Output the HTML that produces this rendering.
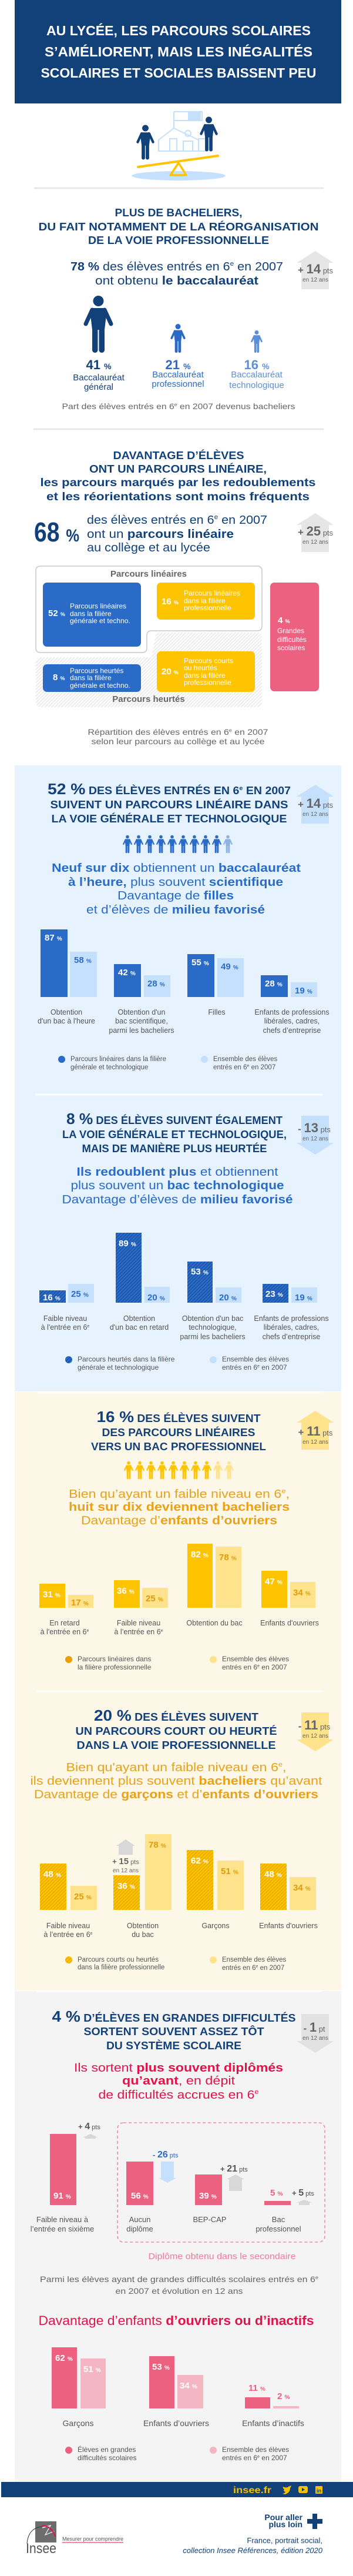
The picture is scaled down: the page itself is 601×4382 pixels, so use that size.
<!DOCTYPE html>
<html><head><meta charset="utf-8"><style>
html,body{margin:0;padding:0;background:#fff}
svg{display:block}
text{font-family:"Liberation Sans",sans-serif}
</style></head><body>
<svg width="601" height="4382" viewBox="0 0 601 4382" xmlns="http://www.w3.org/2000/svg">
<defs>
<symbol id="p" viewBox="0 0 51 97"><circle cx="25.5" cy="9" r="9"/><path d="M15 21 H36 Q39 21 40 25 L36 58 H15 L11 25 Q12 21 15 21 Z"/><path d="M15 24 L4 48 M36 24 L47 48" stroke-width="7" stroke-linecap="round" stroke="currentColor"/><rect x="15" y="52" width="9.5" height="45" rx="4.5"/><rect x="26.5" y="52" width="9.5" height="45" rx="4.5"/></symbol>
<pattern id="hb" width="4" height="4" patternUnits="userSpaceOnUse" patternTransform="rotate(45)"><rect width="4" height="4" fill="#2a6bc8"/><rect width="1.3" height="4" fill="#1a4f9e"/></pattern>
<pattern id="hy" width="4" height="4" patternUnits="userSpaceOnUse" patternTransform="rotate(45)"><rect width="4" height="4" fill="#ffc400"/><rect width="1.3" height="4" fill="#e0a300"/></pattern>
<pattern id="hg" width="4" height="4" patternUnits="userSpaceOnUse" patternTransform="rotate(45)"><rect width="4" height="4" fill="#fff"/><rect width="1" height="4" fill="#dcdcdc"/></pattern>
</defs>

<!-- Header -->
<rect x="25" y="0" width="556" height="176" fill="#12417a"/>
<g fill="#fff" font-weight="bold" font-size="23" text-anchor="middle">
<text x="304" y="60" textLength="450" lengthAdjust="spacingAndGlyphs">AU LYCÉE, LES PARCOURS SCOLAIRES</text>
<text x="304" y="96" textLength="456" lengthAdjust="spacingAndGlyphs">S’AMÉLIORENT, MAIS LES INÉGALITÉS</text>
<text x="304" y="132" textLength="469" lengthAdjust="spacingAndGlyphs">SCOLAIRES ET SOCIALES BAISSENT PEU</text>
</g>
<!-- illustration -->
<ellipse cx="304" cy="299" rx="80" ry="8" fill="#c5e0fd"/>
<g fill="none" stroke="#c5e0fd" stroke-width="2">
<path d="M296 190 V218 M296 190 H344 V205 H296"/>
<path d="M296 218 L270 238 V257 H338 V238 Z"/>
<circle cx="320" cy="227" r="5"/><rect x="312" y="240" width="16" height="17"/>
<rect x="289" y="236" width="12" height="21"/><rect x="338" y="236" width="12" height="21"/>
</g>
<rect x="320" y="190" width="22" height="16" fill="#c5e0fd"/>
<use href="#p" x="232" y="212" width="31" height="60" fill="#12417a" color="#12417a" preserveAspectRatio="none"/>
<use href="#p" x="340" y="198" width="31" height="60" fill="#12417a" color="#12417a" preserveAspectRatio="none"/>
<line x1="235" y1="284" x2="371" y2="265" stroke="#ffc400" stroke-width="4" stroke-linecap="round"/>
<path d="M304 277 L290 298 H317 Z" fill="none" stroke="#ffc400" stroke-width="3.5" stroke-linejoin="round"/>
<line x1="59" y1="320" x2="550" y2="320" stroke="#e8e8e8" stroke-width="3" stroke-linecap="round"/>

<!-- Section 1 -->
<g fill="#12417a" font-weight="bold" font-size="18" text-anchor="middle">
<text x="304" y="368" textLength="217" lengthAdjust="spacingAndGlyphs">PLUS DE BACHELIERS,</text>
<text x="304" y="392" textLength="477" lengthAdjust="spacingAndGlyphs">DU FAIT NOTAMMENT DE LA RÉORGANISATION</text>
<text x="304" y="415" textLength="308" lengthAdjust="spacingAndGlyphs">DE LA VOIE PROFESSIONNELLE</text>
</g>
<g fill="#12417a" font-size="20" text-anchor="middle">
<text x="301" y="460" textLength="362" lengthAdjust="spacingAndGlyphs"><tspan font-weight="bold">78 %</tspan> des élèves entrés en 6<tspan font-size="11" dy="-8">e</tspan><tspan dy="8"> en 2007</tspan></text>
<text x="301" y="484" textLength="278" lengthAdjust="spacingAndGlyphs">ont obtenu <tspan font-weight="bold">le baccalauréat</tspan></text>
</g>
<polygon points="537,427 568,447 560,447 560,492 513,492 513,447 505,447" fill="#e6e6e6"/>
<text x="537" y="465" text-anchor="middle" fill="#666" font-weight="bold"><tspan font-size="17">+ </tspan><tspan font-size="22">14</tspan><tspan font-size="13" font-weight="normal"> pts</tspan></text>
<text x="537" y="479" text-anchor="middle" fill="#666" font-size="10">en 12 ans</text>
<use href="#p" x="142" y="503" width="51" height="97" fill="#12417a" color="#12417a" preserveAspectRatio="none"/>
<use href="#p" x="290" y="551" width="26" height="49" fill="#2a6bc8" color="#2a6bc8" preserveAspectRatio="none"/>
<use href="#p" x="427" y="562" width="20" height="38" fill="#5b8fd8" color="#5b8fd8" preserveAspectRatio="none"/>
<g text-anchor="middle">
<text x="168" y="628" fill="#12417a" font-weight="bold" font-size="22">41 <tspan font-size="14">%</tspan></text>
<text x="168" y="647" fill="#12417a" font-size="15">Baccalauréat</text>
<text x="168" y="663" fill="#12417a" font-size="15">général</text>
<text x="303" y="628" fill="#2a6bc8" font-weight="bold" font-size="22">21 <tspan font-size="14">%</tspan></text>
<text x="303" y="642" fill="#2a6bc8" font-size="15">Baccalauréat</text>
<text x="303" y="658" fill="#2a6bc8" font-size="15">professionnel</text>
<text x="437" y="628" fill="#5b8fd8" font-weight="bold" font-size="22">16 <tspan font-size="14">%</tspan></text>
<text x="437" y="642" fill="#5b8fd8" font-size="15">Baccalauréat</text>
<text x="437" y="660" fill="#5b8fd8" font-size="15">technologique</text>
<text x="304" y="696" fill="#666" font-size="14" textLength="397" lengthAdjust="spacingAndGlyphs">Part des élèves entrés en 6<tspan font-size="8" dy="-5">e</tspan><tspan dy="5"> en 2007 devenus bacheliers</tspan></text>
</g>
<line x1="58" y1="730" x2="550" y2="730" stroke="#e8e8e8" stroke-width="3" stroke-linecap="round"/>

<!-- Section 2 -->
<g fill="#12417a" font-weight="bold" font-size="18" text-anchor="middle">
<text x="304" y="781" textLength="223" lengthAdjust="spacingAndGlyphs">DAVANTAGE D’ÉLÈVES</text>
<text x="303" y="804" textLength="302" lengthAdjust="spacingAndGlyphs">ONT UN PARCOURS LINÉAIRE,</text>
<text x="303" y="827" font-size="19" textLength="469" lengthAdjust="spacingAndGlyphs">les parcours marqués par les redoublements</text>
<text x="303" y="851" font-size="19" textLength="448" lengthAdjust="spacingAndGlyphs">et les réorientations sont moins fréquents</text>
</g>
<text x="58" y="921" fill="#12417a" font-weight="bold" font-size="46" textLength="77" lengthAdjust="spacingAndGlyphs">68 <tspan font-size="30">%</tspan></text>
<g fill="#12417a" font-size="20">
<text x="148" y="891" textLength="307" lengthAdjust="spacingAndGlyphs">des élèves entrés en 6<tspan font-size="11" dy="-8">e</tspan><tspan dy="8"> en 2007</tspan></text>
<text x="148" y="915" textLength="250" lengthAdjust="spacingAndGlyphs">ont un <tspan font-weight="bold">parcours linéaire</tspan></text>
<text x="148" y="938" textLength="210" lengthAdjust="spacingAndGlyphs">au collège et au lycée</text>
</g>
<polygon points="537,873 568,893 560,893 560,939 513,939 513,893 505,893" fill="#e6e6e6"/>
<text x="537" y="911" text-anchor="middle" fill="#666" font-weight="bold"><tspan font-size="17">+ </tspan><tspan font-size="22">25</tspan><tspan font-size="13" font-weight="normal"> pts</tspan></text>
<text x="537" y="925" text-anchor="middle" fill="#666" font-size="10">en 12 ans</text>

<path d="M266 1076 H438 Q446 1076 446 1084 V1195 Q446 1203 438 1203 H69 Q61 1203 61 1195 V1126 Q61 1118 69 1118 H258 Z" fill="url(#hg)"/>
<path d="M69 963 H438 Q446 963 446 971 V1065 Q446 1073 438 1073 H258 Q250 1073 250 1081 V1102 Q250 1110 242 1110 H69 Q61 1110 61 1102 V971 Q61 963 69 963 Z" fill="#fff" stroke="#c8c8c8" stroke-width="1.5"/>
<text x="253" y="981" text-anchor="middle" fill="#666" font-weight="bold" font-size="15">Parcours linéaires</text>
<rect x="73" y="991" width="167" height="109" rx="7" fill="#2a6bc8"/>
<rect x="267" y="991" width="167" height="63" rx="7" fill="#ffc400"/>
<rect x="460" y="991" width="83" height="185" rx="7" fill="#ec6080"/>
<rect x="73" y="1130" width="167" height="47" rx="7" fill="#2a6bc8"/>
<rect x="267" y="1108" width="167" height="69" rx="7" fill="#ffc400"/>
<g fill="#fff" font-size="12">
<text x="82" y="1048" font-weight="bold" font-size="15">52 <tspan font-size="9">%</tspan></text>
<text x="119" y="1035">Parcours linéaires</text><text x="119" y="1048">dans la filière</text><text x="119" y="1060">générale et techno.</text>
<text x="275" y="1028" font-weight="bold" font-size="15">16 <tspan font-size="9">%</tspan></text>
<text x="313" y="1013">Parcours linéaires</text><text x="313" y="1026">dans la filière</text><text x="313" y="1038">professionnelle</text>
<text x="473" y="1060" font-weight="bold" font-size="15">4 <tspan font-size="9">%</tspan></text>
<text x="472" y="1077">Grandes</text><text x="472" y="1092">difficultés</text><text x="472" y="1106">scolaires</text>
<text x="90" y="1157" font-weight="bold" font-size="15">8 <tspan font-size="9">%</tspan></text>
<text x="119" y="1145">Parcours heurtés</text><text x="119" y="1157">dans la filière</text><text x="119" y="1170">générale et techno.</text>
<text x="275" y="1147" font-weight="bold" font-size="15">20 <tspan font-size="9">%</tspan></text>
<text x="313" y="1128">Parcours courts</text><text x="313" y="1140">ou heurtés</text><text x="313" y="1153">dans la filière</text><text x="313" y="1165">professionnelle</text>
</g>
<text x="253" y="1194" text-anchor="middle" fill="#666" font-weight="bold" font-size="15">Parcours heurtés</text>
<g fill="#666" font-size="14" text-anchor="middle">
<text x="303" y="1250" textLength="307" lengthAdjust="spacingAndGlyphs">Répartition des élèves entrés en 6<tspan font-size="8" dy="-5">e</tspan><tspan dy="5"> en 2007</tspan></text>
<text x="303" y="1266" textLength="295" lengthAdjust="spacingAndGlyphs">selon leur parcours au collège et au lycée</text>
</g>

<!-- Blue section -->
<rect x="25" y="1302" width="556" height="1065" fill="#e6f2fe"/>
<g fill="#12417a" font-weight="bold" font-size="18" text-anchor="middle">
<text x="288" y="1351" textLength="414" lengthAdjust="spacingAndGlyphs"><tspan font-size="26">52 %</tspan> DES ÉLÈVES ENTRÉS EN 6<tspan font-size="10" dy="-7">e</tspan><tspan dy="7"> EN 2007</tspan></text>
<text x="288" y="1375" textLength="405" lengthAdjust="spacingAndGlyphs">SUIVENT UN PARCOURS LINÉAIRE DANS</text>
<text x="288" y="1399" textLength="401" lengthAdjust="spacingAndGlyphs">LA VOIE GÉNÉRALE ET TECHNOLOGIQUE</text>
</g>
<polygon points="537,1335 568,1355 560,1355 560,1401 513,1401 513,1355 505,1355" fill="#c5e0fd"/>
<text x="537" y="1374" text-anchor="middle" fill="#666" font-weight="bold"><tspan font-size="17">+ </tspan><tspan font-size="22">14</tspan><tspan font-size="13" font-weight="normal"> pts</tspan></text>
<text x="537" y="1388" text-anchor="middle" fill="#666" font-size="10">en 12 ans</text>
<g fill="#2a6bc8" color="#2a6bc8">
<use href="#p" x="209" y="1416" width="16" height="40" preserveAspectRatio="none"/>
<use href="#p" x="228" y="1416" width="16" height="40" preserveAspectRatio="none"/>
<use href="#p" x="247" y="1416" width="16" height="40" preserveAspectRatio="none"/>
<use href="#p" x="266" y="1416" width="16" height="40" preserveAspectRatio="none"/>
<use href="#p" x="285" y="1416" width="16" height="40" preserveAspectRatio="none"/>
<use href="#p" x="304" y="1416" width="16" height="40" preserveAspectRatio="none"/>
<use href="#p" x="323" y="1416" width="16" height="40" preserveAspectRatio="none"/>
<use href="#p" x="342" y="1416" width="16" height="40" preserveAspectRatio="none"/>
<use href="#p" x="361" y="1416" width="16" height="40" preserveAspectRatio="none"/>
<use href="#p" x="380" y="1416" width="16" height="40" fill="#8fb3e0" color="#8fb3e0" preserveAspectRatio="none"/>
</g>
<g fill="#2a6bc8" font-size="20" text-anchor="middle">
<text x="300" y="1483" textLength="424" lengthAdjust="spacingAndGlyphs"><tspan font-weight="bold">Neuf sur dix</tspan> obtiennent un <tspan font-weight="bold">baccalauréat</tspan></text>
<text x="299" y="1507" textLength="366" lengthAdjust="spacingAndGlyphs"><tspan font-weight="bold">à l’heure,</tspan> plus souvent <tspan font-weight="bold">scientifique</tspan></text>
<text x="299" y="1530" textLength="198" lengthAdjust="spacingAndGlyphs">Davantage de <tspan font-weight="bold">filles</tspan></text>
<text x="299" y="1554" textLength="304" lengthAdjust="spacingAndGlyphs">et d’élèves de <tspan font-weight="bold">milieu favorisé</tspan></text>
</g>
<g fill="#2a6bc8">
<rect x="69" y="1581" width="46" height="115"/><rect x="194" y="1640" width="46" height="56"/><rect x="319" y="1623" width="46" height="73"/><rect x="444" y="1659" width="46" height="37"/>
</g>
<g fill="#c5e0fd">
<rect x="119" y="1619" width="46" height="77"/><rect x="245" y="1659" width="45" height="37"/><rect x="370" y="1630" width="45" height="66"/><rect x="495" y="1671" width="45" height="25"/>
</g>
<g font-weight="bold" font-size="15" fill="#fff">
<text x="76" y="1600">87 <tspan font-size="10">%</tspan></text><text x="201" y="1659">42 <tspan font-size="10">%</tspan></text><text x="326" y="1642">55 <tspan font-size="10">%</tspan></text><text x="451" y="1678">28 <tspan font-size="10">%</tspan></text>
</g>
<g font-weight="bold" font-size="15" fill="#2a6bc8">
<text x="126" y="1638">58 <tspan font-size="10">%</tspan></text><text x="251" y="1678">28 <tspan font-size="10">%</tspan></text><text x="376" y="1649">49 <tspan font-size="10">%</tspan></text><text x="502" y="1690">19 <tspan font-size="10">%</tspan></text>
</g>
<g fill="#555" font-size="12.5" text-anchor="middle">
<text x="113" y="1726">Obtention</text><text x="113" y="1741">d'un bac à l'heure</text>
<text x="241" y="1726">Obtention d'un</text><text x="241" y="1741">bac scientifique,</text><text x="241" y="1757">parmi les bacheliers</text>
<text x="369" y="1726">Filles</text>
<text x="497" y="1726">Enfants de professions</text><text x="497" y="1741">libérales, cadres,</text><text x="497" y="1757">chefs d’entreprise</text>
</g>
<circle cx="105" cy="1802" r="6" fill="#2a6bc8"/><circle cx="348" cy="1802" r="6" fill="#c5e0fd"/>
<g fill="#555" font-size="11.5">
<text x="120" y="1805">Parcours linéaires dans la filière</text><text x="120" y="1819">générale et technologique</text>
<text x="363" y="1805">Ensemble des élèves</text><text x="363" y="1819">entrés en 6<tspan font-size="7" dy="-4">e</tspan><tspan dy="4"> en 2007</tspan></text>
</g>
<line x1="62" y1="1862" x2="548" y2="1862" stroke="#fff" stroke-width="3" stroke-linecap="round"/>

<g fill="#12417a" font-weight="bold" font-size="18" text-anchor="middle">
<text x="297" y="1912" textLength="368" lengthAdjust="spacingAndGlyphs"><tspan font-size="26">8 %</tspan> DES ÉLÈVES SUIVENT ÉGALEMENT</text>
<text x="297" y="1936" textLength="382" lengthAdjust="spacingAndGlyphs">LA VOIE GÉNÉRALE ET TECHNOLOGIQUE,</text>
<text x="297" y="1960" textLength="315" lengthAdjust="spacingAndGlyphs">MAIS DE MANIÈRE PLUS HEURTÉE</text>
</g>
<polygon points="513,1898 560,1898 560,1944 568,1944 537,1964 505,1944 513,1944" fill="#c5e0fd"/>
<text x="535" y="1926" text-anchor="middle" fill="#666" font-weight="bold"><tspan font-size="17">- </tspan><tspan font-size="22">13</tspan><tspan font-size="13" font-weight="normal"> pts</tspan></text>
<text x="537" y="1940" text-anchor="middle" fill="#666" font-size="10">en 12 ans</text>
<g fill="#2a6bc8" font-size="20" text-anchor="middle">
<text x="302" y="2000" textLength="343" lengthAdjust="spacingAndGlyphs"><tspan font-weight="bold">Ils redoublent plus</tspan> et obtiennent</text>
<text x="302" y="2023" textLength="363" lengthAdjust="spacingAndGlyphs">plus souvent un <tspan font-weight="bold">bac technologique</tspan></text>
<text x="302" y="2047" textLength="393" lengthAdjust="spacingAndGlyphs">Davantage d’élèves de <tspan font-weight="bold">milieu favorisé</tspan></text>
</g>
<g fill="url(#hb)">
<rect x="67" y="2195" width="45" height="21"/><rect x="197" y="2097" width="44" height="119"/><rect x="319" y="2146" width="43" height="70"/><rect x="447" y="2184" width="44" height="32"/>
</g>
<g fill="#c5e0fd">
<rect x="116" y="2184" width="44" height="32"/><rect x="246" y="2189" width="43" height="27"/><rect x="367" y="2190" width="44" height="26"/><rect x="496" y="2190" width="44" height="26"/>
</g>
<g font-weight="bold" font-size="15" fill="#fff">
<text x="73" y="2212">16 <tspan font-size="10">%</tspan></text><text x="202" y="2120">89 <tspan font-size="10">%</tspan></text><text x="325" y="2168">53 <tspan font-size="10">%</tspan></text><text x="452" y="2206">23 <tspan font-size="10">%</tspan></text>
</g>
<g font-weight="bold" font-size="15" fill="#2a6bc8">
<text x="121" y="2206">25 <tspan font-size="10">%</tspan></text><text x="251" y="2212">20 <tspan font-size="10">%</tspan></text><text x="373" y="2212">20 <tspan font-size="10">%</tspan></text><text x="502" y="2212">19 <tspan font-size="10">%</tspan></text>
</g>
<g fill="#555" font-size="12.5" text-anchor="middle">
<text x="111" y="2247">Faible niveau</text><text x="111" y="2262">à l'entrée en 6<tspan font-size="7" dy="-4">e</tspan></text>
<text x="237" y="2247">Obtention</text><text x="237" y="2262">d'un bac en retard</text>
<text x="362" y="2247">Obtention d'un bac</text><text x="362" y="2262">technologique,</text><text x="362" y="2278">parmi les bacheliers</text>
<text x="496" y="2247">Enfants de professions</text><text x="496" y="2262">libérales, cadres,</text><text x="496" y="2278">chefs d’entreprise</text>
</g>
<circle cx="117" cy="2313" r="6" fill="url(#hb)"/><circle cx="363" cy="2313" r="6" fill="#c5e0fd"/>
<g fill="#555" font-size="12">
<text x="132" y="2316">Parcours heurtés dans la filière</text><text x="132" y="2330">générale et technologique</text>
<text x="378" y="2316">Ensemble des élèves</text><text x="378" y="2330">entrés en 6<tspan font-size="7" dy="-4">e</tspan><tspan dy="4"> en 2007</tspan></text>
</g>

<!-- Yellow section -->
<rect x="25" y="2368" width="556" height="1018" fill="#fdf7e7"/>
<line x1="62" y1="2368" x2="548" y2="2368" stroke="#fff" stroke-width="3"/>
<g fill="#12417a" font-weight="bold" font-size="18" text-anchor="middle">
<text x="304" y="2419" textLength="279" lengthAdjust="spacingAndGlyphs"><tspan font-size="26">16 %</tspan> DES ÉLÈVES SUIVENT</text>
<text x="304" y="2443" textLength="261" lengthAdjust="spacingAndGlyphs">DES PARCOURS LINÉAIRES</text>
<text x="304" y="2467" textLength="298" lengthAdjust="spacingAndGlyphs">VERS UN BAC PROFESSIONNEL</text>
</g>
<polygon points="537,2400 568,2420 560,2420 560,2466 513,2466 513,2420 505,2420" fill="#ffe38c"/>
<text x="537" y="2442" text-anchor="middle" fill="#666" font-weight="bold"><tspan font-size="17">+ </tspan><tspan font-size="22">11</tspan><tspan font-size="13" font-weight="normal"> pts</tspan></text>
<text x="537" y="2456" text-anchor="middle" fill="#666" font-size="10">en 12 ans</text>
<g fill="#ffc400" color="#ffc400">
<use href="#p" x="211" y="2481" width="16" height="40" preserveAspectRatio="none"/>
<use href="#p" x="230" y="2481" width="16" height="40" preserveAspectRatio="none"/>
<use href="#p" x="249" y="2481" width="16" height="40" preserveAspectRatio="none"/>
<use href="#p" x="268" y="2481" width="16" height="40" preserveAspectRatio="none"/>
<use href="#p" x="287" y="2481" width="16" height="40" preserveAspectRatio="none"/>
<use href="#p" x="306" y="2481" width="16" height="40" preserveAspectRatio="none"/>
<use href="#p" x="325" y="2481" width="16" height="40" preserveAspectRatio="none"/>
<use href="#p" x="344" y="2481" width="16" height="40" preserveAspectRatio="none"/>
<use href="#p" x="363" y="2481" width="16" height="40" fill="#ffe38c" color="#ffe38c" preserveAspectRatio="none"/>
<use href="#p" x="382" y="2481" width="16" height="40" fill="#ffe38c" color="#ffe38c" preserveAspectRatio="none"/>
</g>
<g fill="#eaa11a" font-size="20" text-anchor="middle">
<text x="305" y="2548" textLength="376" lengthAdjust="spacingAndGlyphs">Bien qu’ayant un faible niveau en 6<tspan font-size="11" dy="-8">e</tspan><tspan dy="8">,</tspan></text>
<text x="305" y="2570" font-weight="bold" textLength="376" lengthAdjust="spacingAndGlyphs">huit sur dix deviennent bacheliers</text>
<text x="305" y="2593" textLength="334" lengthAdjust="spacingAndGlyphs">Davantage d’<tspan font-weight="bold">enfants d’ouvriers</tspan></text>
</g>
<g fill="#ffc400">
<rect x="67" y="2694" width="44" height="41"/><rect x="194" y="2688" width="44" height="47"/><rect x="319" y="2626" width="43" height="109"/><rect x="445" y="2672" width="44" height="63"/>
</g>
<g fill="#ffe38c">
<rect x="116" y="2713" width="43" height="22"/><rect x="242" y="2701" width="44" height="34"/><rect x="367" y="2631" width="44" height="104"/><rect x="494" y="2691" width="43" height="44"/>
</g>
<g font-weight="bold" font-size="15" fill="#fff">
<text x="73" y="2717">31 <tspan font-size="10">%</tspan></text><text x="199" y="2711">36 <tspan font-size="10">%</tspan></text><text x="325" y="2649">82 <tspan font-size="10">%</tspan></text><text x="451" y="2695">47 <tspan font-size="10">%</tspan></text>
</g>
<g font-weight="bold" font-size="15" fill="#e09b0a">
<text x="121" y="2731">17 <tspan font-size="10">%</tspan></text><text x="248" y="2724">25 <tspan font-size="10">%</tspan></text><text x="373" y="2654">78 <tspan font-size="10">%</tspan></text><text x="499" y="2714">34 <tspan font-size="10">%</tspan></text>
</g>
<g fill="#555" font-size="12.5" text-anchor="middle">
<text x="110" y="2765">En retard</text><text x="110" y="2780">à l'entrée en 6<tspan font-size="7" dy="-4">e</tspan></text>
<text x="236" y="2765">Faible niveau</text><text x="236" y="2780">à l’entrée en 6<tspan font-size="7" dy="-4">e</tspan></text>
<text x="365" y="2765">Obtention du bac</text>
<text x="493" y="2765">Enfants d'ouvriers</text>
</g>
<circle cx="117" cy="2823" r="6" fill="#eba000"/><circle cx="363" cy="2823" r="6" fill="#ffe38c"/>
<g fill="#555" font-size="12">
<text x="132" y="2826">Parcours linéaires dans</text><text x="132" y="2840">la filière professionnelle</text>
<text x="378" y="2826">Ensemble des élèves</text><text x="378" y="2840">entrés en 6<tspan font-size="7" dy="-4">e</tspan><tspan dy="4"> en 2007</tspan></text>
</g>
<line x1="62" y1="2877" x2="548" y2="2877" stroke="#fff" stroke-width="3" stroke-linecap="round"/>
<g fill="#12417a" font-weight="bold" font-size="18" text-anchor="middle">
<text x="300" y="2927" textLength="280" lengthAdjust="spacingAndGlyphs"><tspan font-size="26">20 %</tspan> DES ÉLÈVES SUIVENT</text>
<text x="300" y="2951" textLength="343" lengthAdjust="spacingAndGlyphs">UN PARCOURS COURT OU HEURTÉ</text>
<text x="300" y="2975" textLength="339" lengthAdjust="spacingAndGlyphs">DANS LA VOIE PROFESSIONNELLE</text>
</g>
<polygon points="513,2913 560,2913 560,2959 568,2959 537,2979 505,2959 513,2959" fill="#ffe38c"/>
<text x="535" y="2942" text-anchor="middle" fill="#666" font-weight="bold"><tspan font-size="17">- </tspan><tspan font-size="22">11</tspan><tspan font-size="13" font-weight="normal"> pts</tspan></text>
<text x="537" y="2956" text-anchor="middle" fill="#666" font-size="10">en 12 ans</text>
<g fill="#eaa11a" font-size="20" text-anchor="middle">
<text x="300" y="3013" textLength="375" lengthAdjust="spacingAndGlyphs">Bien qu'ayant un faible niveau en 6<tspan font-size="11" dy="-8">e</tspan><tspan dy="8">,</tspan></text>
<text x="300" y="3036" textLength="497" lengthAdjust="spacingAndGlyphs">ils deviennent plus souvent <tspan font-weight="bold">bacheliers</tspan> qu’avant</text>
<text x="300" y="3059" textLength="484" lengthAdjust="spacingAndGlyphs">Davantage de <tspan font-weight="bold">garçons</tspan> et d’<tspan font-weight="bold">enfants d’ouvriers</tspan></text>
</g>
<g fill="url(#hy)">
<rect x="68" y="3170" width="45" height="79"/><rect x="193" y="3190" width="45" height="59"/><rect x="318" y="3147" width="45" height="102"/><rect x="443" y="3170" width="45" height="79"/>
</g>
<g fill="#ffe38c">
<rect x="120" y="3208" width="45" height="41"/><rect x="247" y="3120" width="45" height="129"/><rect x="370" y="3165" width="45" height="84"/><rect x="493" y="3193" width="45" height="56"/>
</g>
<g font-weight="bold" font-size="15" fill="#fff">
<text x="74" y="3193">48 <tspan font-size="10">%</tspan></text><text x="200" y="3213">36 <tspan font-size="10">%</tspan></text><text x="325" y="3170">62 <tspan font-size="10">%</tspan></text><text x="450" y="3193">48 <tspan font-size="10">%</tspan></text>
</g>
<g font-weight="bold" font-size="15" fill="#e09b0a">
<text x="126" y="3231">25 <tspan font-size="10">%</tspan></text><text x="253" y="3143">78 <tspan font-size="10">%</tspan></text><text x="376" y="3188">51 <tspan font-size="10">%</tspan></text><text x="499" y="3216">34 <tspan font-size="10">%</tspan></text>
</g>
<polygon points="214,3129 230,3140 226,3140 226,3155 202,3155 202,3140 198,3140" fill="#d8d8d8"/>
<text x="214" y="3171" text-anchor="middle" fill="#666" font-weight="bold"><tspan font-size="13">+ </tspan><tspan font-size="15">15</tspan><tspan font-size="11" font-weight="normal"> pts</tspan></text>
<text x="214" y="3185" text-anchor="middle" fill="#666" font-size="10">en 12 ans</text>
<g fill="#555" font-size="12.5" text-anchor="middle">
<text x="116" y="3280">Faible niveau</text><text x="116" y="3295">à l’entrée en 6<tspan font-size="7" dy="-4">e</tspan></text>
<text x="243" y="3280">Obtention</text><text x="243" y="3295">du bac</text>
<text x="367" y="3280">Garçons</text>
<text x="491" y="3280">Enfants d'ouvriers</text>
</g>
<circle cx="117" cy="3334" r="6" fill="url(#hy)"/><circle cx="363" cy="3334" r="6" fill="#ffe38c"/>
<g fill="#555" font-size="11.5">
<text x="132" y="3337">Parcours courts ou heurtés</text><text x="132" y="3350">dans la filière professionnelle</text>
<text x="378" y="3337">Ensemble des élèves</text><text x="378" y="3351">entrés en 6<tspan font-size="7" dy="-4">e</tspan><tspan dy="4"> en 2007</tspan></text>
</g>

<!-- Gray section -->
<rect x="25" y="3387" width="556" height="835" fill="#f4f4f4"/>
<line x1="62" y1="3387" x2="548" y2="3387" stroke="#fff" stroke-width="3"/>
<g fill="#12417a" font-weight="bold" font-size="18" text-anchor="middle">
<text x="296" y="3439" textLength="415" lengthAdjust="spacingAndGlyphs"><tspan font-size="26">4 %</tspan> D’ÉLÈVES EN GRANDES DIFFICULTÉS</text>
<text x="296" y="3462" textLength="307" lengthAdjust="spacingAndGlyphs">SORTENT SOUVENT ASSEZ TÔT</text>
<text x="296" y="3486" textLength="230" lengthAdjust="spacingAndGlyphs">DU SYSTÈME SCOLAIRE</text>
</g>
<polygon points="513,3426 560,3426 560,3472 568,3472 537,3492 505,3472 513,3472" fill="#e2e2e2"/>
<text x="535" y="3456" text-anchor="middle" fill="#666" font-weight="bold"><tspan font-size="17">- </tspan><tspan font-size="22">1</tspan><tspan font-size="13" font-weight="normal"> pt</tspan></text>
<text x="537" y="3470" text-anchor="middle" fill="#666" font-size="10">en 12 ans</text>
<g fill="#e2134a" font-size="20" text-anchor="middle">
<text x="304" y="3524" textLength="356" lengthAdjust="spacingAndGlyphs">Ils sortent <tspan font-weight="bold">plus souvent diplômés</tspan></text>
<text x="304" y="3546" textLength="192" lengthAdjust="spacingAndGlyphs"><tspan font-weight="bold">qu’avant</tspan>, en dépit</text>
<text x="304" y="3570" textLength="273" lengthAdjust="spacingAndGlyphs">de difficultés accrues en 6<tspan font-size="11" dy="-8">e</tspan></text>
</g>
<rect x="200" y="3611" width="353" height="203" rx="10" fill="none" stroke="#f28aa3" stroke-width="1.6" stroke-dasharray="5 4"/>
<g fill="#ec6080">
<rect x="85" y="3630" width="45" height="121"/><rect x="215" y="3677" width="46" height="74"/><rect x="332" y="3699" width="46" height="52"/><rect x="450" y="3744" width="45" height="7"/>
</g>
<g font-weight="bold" font-size="15" fill="#fff">
<text x="91" y="3740">91 <tspan font-size="10">%</tspan></text><text x="223" y="3740">56 <tspan font-size="10">%</tspan></text><text x="339" y="3740">39 <tspan font-size="10">%</tspan></text>
</g>
<text x="460" y="3735" font-weight="bold" font-size="15" fill="#ec6080">5 <tspan font-size="10">%</tspan></text>
<g fill="#555" font-weight="bold">
<text x="133" y="3622"><tspan font-size="13">+ </tspan><tspan font-size="16">4</tspan><tspan font-size="11" font-weight="normal"> pts</tspan></text>
<text x="375" y="3694"><tspan font-size="13">+ </tspan><tspan font-size="16">21</tspan><tspan font-size="11" font-weight="normal"> pts</tspan></text>
<text x="497" y="3735"><tspan font-size="13">+ </tspan><tspan font-size="16">5</tspan><tspan font-size="11" font-weight="normal"> pts</tspan></text>
</g>
<text x="260" y="3670" fill="#2a6bc8" font-weight="bold"><tspan font-size="13">- </tspan><tspan font-size="16">26</tspan><tspan font-size="11" font-weight="normal"> pts</tspan></text>
<polygon points="154,3630 167,3636 163,3636 163,3638 145,3638 145,3636 141,3636" fill="#d8d8d8"/>
<polygon points="274,3677 296,3677 296,3705 300,3705 285,3713 270,3705 274,3705" fill="#c5e0fd"/>
<polygon points="401,3699 416,3707 412,3707 412,3727 390,3727 390,3707 386,3707" fill="#d8d8d8"/>
<polygon points="518,3742 531,3747 527,3747 527,3751 509,3751 509,3747 505,3747" fill="#d8d8d8"/>
<g fill="#555" font-size="13" text-anchor="middle">
<text x="106" y="3780">Faible niveau à</text><text x="106" y="3796">l’entrée en sixième</text>
<text x="238" y="3780">Aucun</text><text x="238" y="3796">diplôme</text>
<text x="357" y="3780">BEP-CAP</text>
<text x="474" y="3780">Bac</text><text x="474" y="3796">professionnel</text>
</g>
<text x="378" y="3843" text-anchor="middle" fill="#f07a98" font-size="15" textLength="251" lengthAdjust="spacingAndGlyphs">Diplôme obtenu dans le secondaire</text>
<g fill="#666" font-size="14" text-anchor="middle">
<text x="305" y="3882" textLength="474" lengthAdjust="spacingAndGlyphs">Parmi les élèves ayant de grandes difficultés scolaires entrés en 6<tspan font-size="8" dy="-5">e</tspan></text>
<text x="305" y="3902" textLength="217" lengthAdjust="spacingAndGlyphs">en 2007 et évolution en 12 ans</text>
</g>
<text x="300" y="3955" text-anchor="middle" fill="#e2134a" font-size="22" textLength="469" lengthAdjust="spacingAndGlyphs">Davantage d’enfants <tspan font-weight="bold">d’ouvriers ou d’inactifs</tspan></text>
<g fill="#ec6080">
<rect x="88" y="3993" width="43" height="104"/><rect x="254" y="4008" width="43" height="89"/><rect x="417" y="4078" width="43" height="19"/>
</g>
<g fill="#f5b6c3">
<rect x="137" y="4012" width="43" height="85"/><rect x="302" y="4040" width="44" height="57"/><rect x="465" y="4093" width="44" height="4"/>
</g>
<g font-weight="bold" font-size="15" fill="#fff">
<text x="94" y="4016">62 <tspan font-size="10">%</tspan></text><text x="142" y="4035">51 <tspan font-size="10">%</tspan></text><text x="259" y="4031">53 <tspan font-size="10">%</tspan></text><text x="306" y="4063">34 <tspan font-size="10">%</tspan></text>
</g>
<text x="423" y="4067" font-weight="bold" font-size="15" fill="#ec6080">11 <tspan font-size="10">%</tspan></text>
<text x="472" y="4081" font-weight="bold" font-size="15" fill="#ec6080">2 <tspan font-size="10">%</tspan></text>
<g fill="#555" font-size="14" text-anchor="middle">
<text x="133" y="4127">Garçons</text><text x="300" y="4127">Enfants d’ouvriers</text><text x="465" y="4127">Enfants d’inactifs</text>
</g>
<circle cx="117" cy="4168" r="6" fill="#ec6080"/><circle cx="363" cy="4168" r="6" fill="#f5b6c3"/>
<g fill="#555" font-size="12">
<text x="132" y="4171">Élèves en grandes</text><text x="132" y="4185">difficultés scolaires</text>
<text x="378" y="4171">Ensemble des élèves</text><text x="378" y="4185">entrés en 6<tspan font-size="7" dy="-4">e</tspan><tspan dy="4"> en 2007</tspan></text>
</g>

<!-- Footer -->
<rect x="2" y="4222" width="599" height="26" fill="#12417a"/>
<text x="397" y="4241" fill="#f5c000" font-weight="bold" font-size="16" textLength="65" lengthAdjust="spacingAndGlyphs">insee.fr</text>
<path d="M482 4230 Q488 4233 491 4230 Q494 4229 496 4228 Q495 4231 494 4232 Q494 4240 486 4243 Q483 4243 481 4242 Q485 4241 486 4239 Q483 4238 483 4236 Q485 4235 483 4234 Q481 4232 482 4230 Z" fill="#f5c000"/>
<rect x="508" y="4229" width="16" height="12" rx="3" fill="#f5c000"/><path d="M514 4232 L519 4235 L514 4238 Z" fill="#12417a"/>
<rect x="537" y="4229" width="12" height="13" rx="1" fill="#f5c000"/><text x="539" y="4240" font-size="9" font-weight="bold" fill="#12417a">in</text>

<rect x="60" y="4289" width="36" height="36" fill="#6d6d6d"/>
<path d="M72 4300 L86 4296 L77 4312 L92 4306" fill="none" stroke="#fff" stroke-width="1.2"/>
<path d="M46 4327 Q48 4300 72 4298" fill="none" stroke="#333" stroke-width="1"/>
<path d="M72 4296 Q89 4298 94 4315" fill="none" stroke="#e2134a" stroke-width="2"/>
<text x="44" y="4343" font-size="24" fill="#555" textLength="52" lengthAdjust="spacingAndGlyphs">Insee</text>
<text x="106" y="4322" font-size="9" fill="#555" textLength="104" lengthAdjust="spacingAndGlyphs">Mesurer pour comprendre</text>
<line x1="106" y1="4325" x2="210" y2="4325" stroke="#e2134a" stroke-width="1"/>
<g fill="#12417a" font-weight="bold" font-size="14" text-anchor="end">
<text x="515" y="4287">Pour aller</text><text x="515" y="4299">plus loin</text>
</g>
<rect x="532" y="4276" width="8" height="26" fill="#12417a"/><rect x="523" y="4285" width="26" height="8" fill="#12417a"/>
<g fill="#12417a" font-size="13" text-anchor="end">
<text x="549" y="4326">France, portrait social,</text>
<text x="549" y="4343" font-style="italic">collection Insee Références, édition 2020</text>
</g>
</svg>
</body></html>
